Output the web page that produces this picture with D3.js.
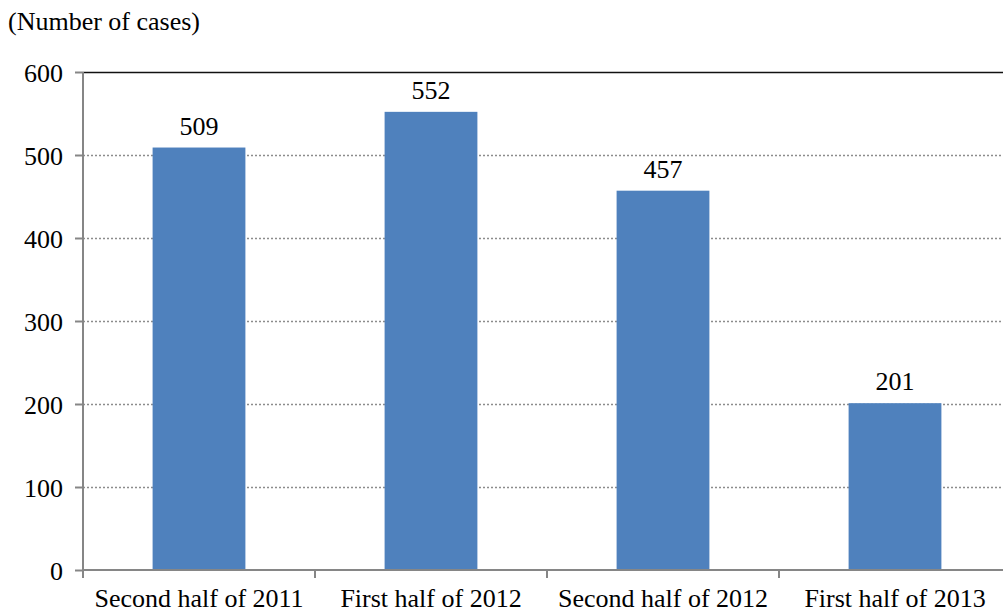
<!DOCTYPE html>
<html><head><meta charset="utf-8">
<script src="https://cdn.jsdelivr.net/npm/d3@7"></script>
<style>body{margin:0;background:#fff}svg{display:block}</style>
</head><body><svg id="c" width="1003" height="613"></svg>
<script>
const categories = ["Second half of 2011","First half of 2012","Second half of 2012","First half of 2013"];
const values = [509, 552, 457, 201];
const yTicks = [0,100,200,300,400,500,600];
const yTitle = "(Number of cases)";

const FONT = "'Liberation Serif','Times New Roman',serif";
const svg = d3.select("#c");
const mLeft = 83, mRight = 1011, mTop = 72, mBottom = 570;
const x = d3.scaleBand().domain(categories).range([mLeft, mRight]).padding(0);
const y = d3.scaleLinear().domain([0,600]).range([mBottom, mTop]);

// gridlines
svg.append("g").selectAll("line").data(yTicks.filter(d=>d>0 && d<600)).join("line")
  .attr("x1", mLeft).attr("x2", 1003).attr("y1", d=>y(d)+0.5).attr("y2", d=>y(d)+0.5)
  .attr("stroke","#8c8c8c").attr("stroke-width",1.3).attr("stroke-dasharray","2,2");
// top line
svg.append("line").attr("x1", mLeft).attr("x2", 1003).attr("y1", y(600)+0.5).attr("y2", y(600)+0.5)
  .attr("stroke","#111").attr("stroke-width",1.5);

// bars
const bw = x.bandwidth()*0.4;
svg.append("g").selectAll("rect").data(values).join("rect")
  .attr("x",(d,i)=>x(categories[i])+x.bandwidth()/2-bw/2)
  .attr("width",bw)
  .attr("y",d=>y(d)).attr("height",d=>y(0)-y(d))
  .attr("fill","#4F81BD");

// value labels
svg.append("g").selectAll("text").data(values).join("text")
  .attr("x",(d,i)=>x(categories[i])+x.bandwidth()/2)
  .attr("y",d=>y(d)-13).attr("text-anchor","middle")
  .style("font-family",FONT).style("font-size","26px").attr("fill","#000").text(d=>d);

// y axis
const ya = svg.append("g").attr("transform",`translate(${mLeft},0)`)
  .call(d3.axisLeft(y).tickValues(yTicks).tickSize(8).tickPadding(12));
ya.select(".domain").attr("stroke","#868686").attr("stroke-width",2).attr("d",`M0,${mTop}V${mBottom}`);
ya.selectAll(".tick line").attr("stroke","#868686").attr("stroke-width",2);
ya.selectAll(".tick text").style("font-family",FONT).style("font-size","26px").attr("fill","#000").attr("dy","0.35em");

// x axis
const xa = svg.append("g").attr("transform",`translate(0,${mBottom})`)
  .call(d3.axisBottom(x).tickSize(0).tickPadding(19));
xa.select(".domain").attr("stroke","#868686").attr("stroke-width",2).attr("d",`M${mLeft},0H1003`);
xa.selectAll(".tick text").style("font-family",FONT).style("font-size","26px").attr("fill","#000");
// category boundary ticks
svg.append("g").selectAll("line").data(d3.range(categories.length+1)).join("line")
  .attr("x1",i=>mLeft+i*x.step()).attr("x2",i=>mLeft+i*x.step())
  .attr("y1",mBottom).attr("y2",mBottom+8).attr("stroke","#868686").attr("stroke-width",2);

svg.append("text").attr("x",8).attr("y",30).style("font-family",FONT).style("font-size","26px").attr("fill","#000").text(yTitle);
</script></body></html>
